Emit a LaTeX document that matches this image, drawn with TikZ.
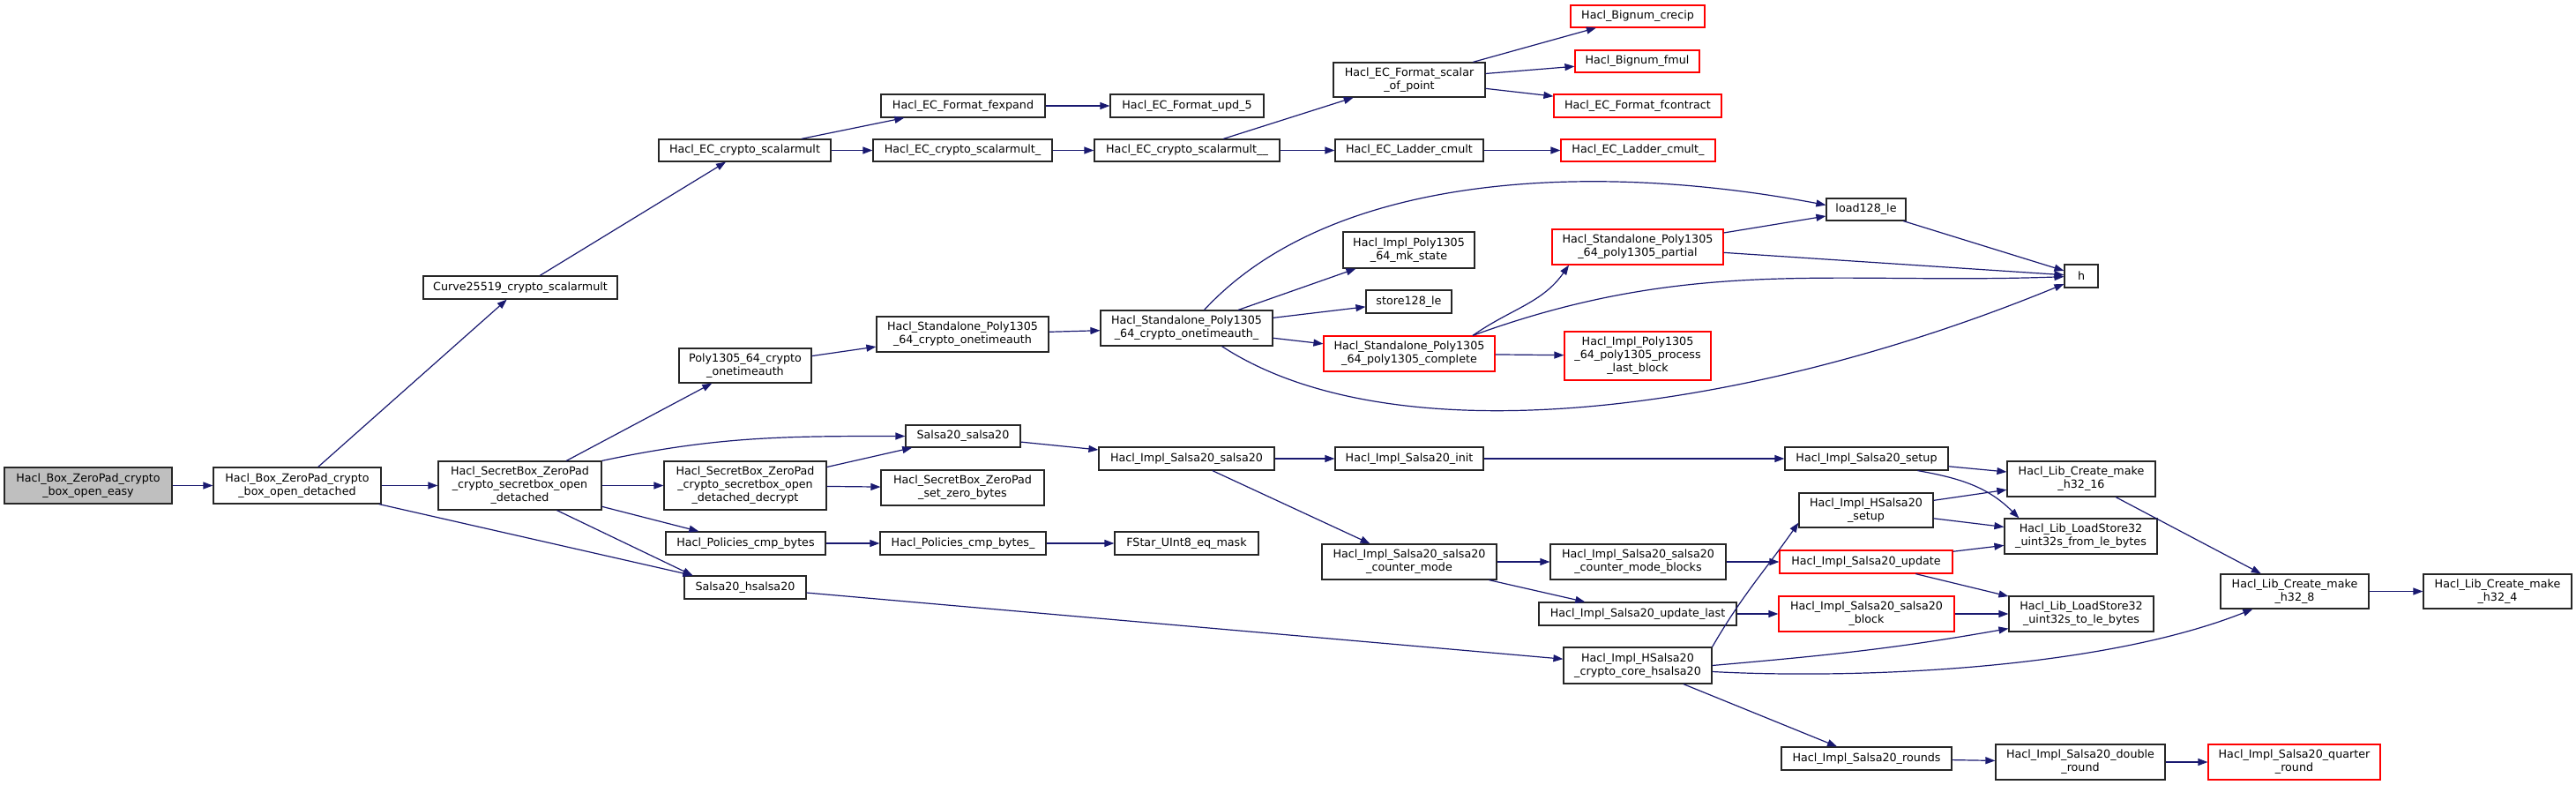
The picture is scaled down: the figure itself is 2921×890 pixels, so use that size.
\documentclass[tikz,border=0pt]{standalone}
\usepackage{fontspec}
\setmainfont{DejaVu Sans}
\usetikzlibrary{arrows.meta}
\definecolor{callblue}{RGB}{25,25,112}
\definecolor{rootgrey}{RGB}{191,191,191}

\begin{document}
\begin{tikzpicture}[x=1pt,y=1pt,
  fn/.style={draw=black!85, fill=white, line width=1.2pt, inner sep=0pt, align=center,
    font=\fontsize{12.7}{15}\selectfont},
  fnred/.style={fn, draw=red},
  call/.style={draw=callblue, line width=1.2pt, -{Triangle[length=11pt,width=8pt]}}]
\useasboundingbox (0,0) rectangle (2921,-890);

\node[fn, fill=rootgrey, minimum width=190, minimum height=41] (easy) at (100,-550.5) {Hacl\_Box\_ZeroPad\_crypto\\\_box\_open\_easy};
\node[fn, minimum width=190, minimum height=41] (detached) at (337,-550.5) {Hacl\_Box\_ZeroPad\_crypto\\\_box\_open\_detached};
\node[fn, minimum width=220, minimum height=26] (curve) at (590,-326) {Curve25519\_crypto\_scalarmult};
\node[fn, minimum width=195, minimum height=25] (ecsm) at (844.5,-170.5) {Hacl\_EC\_crypto\_scalarmult};
\node[fn, minimum width=186, minimum height=26] (fexpand) at (1092,-120) {Hacl\_EC\_Format\_fexpand};
\node[fn, minimum width=174, minimum height=26] (upd5) at (1346,-120) {Hacl\_EC\_Format\_upd\_5};
\node[fn, minimum width=203, minimum height=25] (ecsmA) at (1091.5,-170.5) {Hacl\_EC\_crypto\_scalarmult\_};
\node[fn, minimum width=210, minimum height=25] (ecsmB) at (1346,-170.5) {Hacl\_EC\_crypto\_scalarmult\_\_};
\node[fn, minimum width=172, minimum height=39] (sop) at (1598,-90.5) {Hacl\_EC\_Format\_scalar\\\_of\_point};
\node[fnred, minimum width=152, minimum height=25] (crecip) at (1857,-18.5) {Hacl\_Bignum\_crecip};
\node[fnred, minimum width=141, minimum height=25] (fmul) at (1856.5,-69.5) {Hacl\_Bignum\_fmul};
\node[fnred, minimum width=190, minimum height=26] (fcontract) at (1857,-120) {Hacl\_EC\_Format\_fcontract};
\node[fn, minimum width=168, minimum height=25] (ladder) at (1598,-170.5) {Hacl\_EC\_Ladder\_cmult};
\node[fnred, minimum width=175, minimum height=25] (ladderA) at (1857.5,-170.5) {Hacl\_EC\_Ladder\_cmult\_};
\node[fn, minimum width=90, minimum height=25] (loadle) at (2116,-237.5) {load128\_le};
\node[fn, minimum width=38, minimum height=26] (h) at (2360,-313) {h};
\node[fn, minimum width=149, minimum height=41] (mkstate) at (1597.5,-283.5) {Hacl\_Impl\_Poly1305\\\_64\_mk\_state};
\node[fn, minimum width=97, minimum height=26] (storele) at (1597.5,-342) {store128\_le};
\node[fnred, minimum width=194, minimum height=40] (partial) at (1857,-280) {Hacl\_Standalone\_Poly1305\\\_64\_poly1305\_partial};
\node[fnred, minimum width=194, minimum height=40] (complete) at (1598,-401) {Hacl\_Standalone\_Poly1305\\\_64\_poly1305\_complete};
\node[fnred, minimum width=166, minimum height=55] (lastblock) at (1857,-403.5) {Hacl\_Impl\_Poly1305\\\_64\_poly1305\_process\\\_last\_block};
\node[fn, minimum width=150, minimum height=39] (ota) at (845,-414.5) {Poly1305\_64\_crypto\\\_onetimeauth};
\node[fn, minimum width=195, minimum height=40] (sota) at (1091.5,-379) {Hacl\_Standalone\_Poly1305\\\_64\_crypto\_onetimeauth};
\node[fn, minimum width=195, minimum height=40] (sotaA) at (1345.5,-372) {Hacl\_Standalone\_Poly1305\\\_64\_crypto\_onetimeauth\_};
\node[fn, minimum width=185, minimum height=55] (secretbox) at (589.5,-550.5) {Hacl\_SecretBox\_ZeroPad\\\_crypto\_secretbox\_open\\\_detached};
\node[fn, minimum width=130, minimum height=25] (salsa) at (1092,-494.5) {Salsa20\_salsa20};
\node[fn, minimum width=199, minimum height=26] (implsalsa) at (1345.5,-520) {Hacl\_Impl\_Salsa20\_salsa20};
\node[fn, minimum width=184, minimum height=55] (decrypt) at (845,-550.5) {Hacl\_SecretBox\_ZeroPad\\\_crypto\_secretbox\_open\\\_detached\_decrypt};
\node[fn, minimum width=185, minimum height=40] (zerobytes) at (1091.5,-553) {Hacl\_SecretBox\_ZeroPad\\\_set\_zero\_bytes};
\node[fn, minimum width=181, minimum height=26] (cmp) at (845.5,-616) {Hacl\_Policies\_cmp\_bytes};
\node[fn, minimum width=188, minimum height=26] (cmpA) at (1092,-616) {Hacl\_Policies\_cmp\_bytes\_};
\node[fn, minimum width=163, minimum height=26] (eqmask) at (1345.5,-616) {FStar\_UInt8\_eq\_mask};
\node[fn, minimum width=138, minimum height=26] (hsalsa) at (845,-666) {Salsa20\_hsalsa20};
\node[fn, minimum width=168, minimum height=26] (init) at (1598,-520) {Hacl\_Impl\_Salsa20\_init};
\node[fn, minimum width=185, minimum height=26] (setup) at (2116.5,-520) {Hacl\_Impl\_Salsa20\_setup};
\node[fn, minimum width=168, minimum height=40] (mkA) at (2360,-543) {Hacl\_Lib\_Create\_make\\\_h32\_16};
\node[fn, minimum width=152, minimum height=39] (hsetup) at (2116,-578.5) {Hacl\_Impl\_HSalsa20\\\_setup};
\node[fn, minimum width=173, minimum height=40] (fromle) at (2359.5,-608) {Hacl\_Lib\_LoadStore32\\\_uint32s\_from\_le\_bytes};
\node[fnred, minimum width=196, minimum height=26] (update) at (2116,-637) {Hacl\_Impl\_Salsa20\_update};
\node[fn, minimum width=198, minimum height=40] (ctr) at (1598,-637) {Hacl\_Impl\_Salsa20\_salsa20\\\_counter\_mode};
\node[fn, minimum width=199, minimum height=40] (ctrblocks) at (1857.5,-637) {Hacl\_Impl\_Salsa20\_salsa20\\\_counter\_mode\_blocks};
\node[fn, minimum width=224, minimum height=26] (updlast) at (1857,-696) {Hacl\_Impl\_Salsa20\_update\_last};
\node[fn, minimum width=168, minimum height=41] (core) at (1857,-754.5) {Hacl\_Impl\_HSalsa20\\\_crypto\_core\_hsalsa20};
\node[fnred, minimum width=199, minimum height=40] (block) at (2116.5,-696) {Hacl\_Impl\_Salsa20\_salsa20\\\_block};
\node[fn, minimum width=164, minimum height=40] (tole) at (2360,-696) {Hacl\_Lib\_LoadStore32\\\_uint32s\_to\_le\_bytes};
\node[fn, minimum width=168, minimum height=39] (mkB) at (2602,-670.5) {Hacl\_Lib\_Create\_make\\\_h32\_8};
\node[fn, minimum width=168, minimum height=39] (mkC) at (2832,-670.5) {Hacl\_Lib\_Create\_make\\\_h32\_4};
\node[fn, minimum width=193, minimum height=26] (rounds) at (2116.5,-860) {Hacl\_Impl\_Salsa20\_rounds};
\node[fn, minimum width=192, minimum height=40] (dround) at (2359,-864) {Hacl\_Impl\_Salsa20\_double\\\_round};
\node[fnred, minimum width=195, minimum height=40] (qround) at (2601.5,-864) {Hacl\_Impl\_Salsa20\_quarter\\\_round};

\draw[call] (easy) -- (detached);
\draw[call] (detached) -- (curve);
\draw[call] (detached) -- (secretbox);
\draw[call] (detached) -- ([xshift=10]hsalsa.north west);
\draw[call] (curve) -- (ecsm);
\draw[call] (ecsm) -- (fexpand);
\draw[call] (ecsm) -- (ecsmA);
\draw[call] (fexpand) -- (upd5);
\draw[call] (ecsmA) -- (ecsmB);
\draw[call] (ecsmB) -- (sop);
\draw[call] (ecsmB) -- (ladder);
\draw[call] (sop) -- (crecip);
\draw[call] (sop) -- (fmul);
\draw[call] (sop) -- (fcontract);
\draw[call] (ladder) -- (ladderA);
\draw[call] (secretbox) -- (ota);
\draw[call] (secretbox.north east) to[out=12,in=180] (salsa);
\draw[call] (secretbox) -- (decrypt);
\draw[call] (secretbox) -- (cmp);
\draw[call] ([xshift=42]secretbox.south) -- ([xshift=10]hsalsa.north west);
\draw[call] (ota) -- (sota);
\draw[call] (sota) -- (sotaA);
\draw[call] ([xshift=20]sotaA.north) .. controls (1515,-190) and (1821,-185) .. ([yshift=5]loadle.west);
\draw[call] (sotaA) -- (mkstate);
\draw[call] (sotaA) -- (storele);
\draw[call] (sotaA) -- (complete);
\draw[call] ([xshift=40]sotaA.south) .. controls (1580,-520) and (1980,-470) .. ([yshift=-9]h.west);
\draw[call] (partial) -- (loadle);
\draw[call] (partial) -- (h);
\draw[call] (loadle) -- (h);
\draw[call] ([xshift=72]complete.north) to[out=35,in=235] ([xshift=-78]partial.south);
\draw[call] ([xshift=72]complete.north) to[out=20,in=182] (h);
\draw[call] (complete) -- (lastblock);
\draw[call] (decrypt) -- (salsa);
\draw[call] (decrypt) -- (zerobytes);
\draw[call] (salsa) -- (implsalsa);
\draw[call] (implsalsa) -- (init);
\draw[call] (implsalsa) -- (ctr);
\draw[call] (init) -- (setup);
\draw[call] (setup) -- (mkA);
\draw[call] ([xshift=58]setup.south) to[out=-10,in=135] ([xshift=17]fromle.north west);
\draw[call] (hsetup) -- (mkA);
\draw[call] (hsetup) -- (fromle);
\draw[call] (cmp) -- (cmpA);
\draw[call] (cmpA) -- (eqmask);
\draw[call] (hsalsa) -- (core);
\draw[call] (ctr) -- (ctrblocks);
\draw[call] (ctr) -- (updlast);
\draw[call] (ctrblocks) -- (update);
\draw[call] (updlast) -- (block);
\draw[call] (update) -- (fromle);
\draw[call] (update) -- (tole);
\draw[call] (block) -- (tole);
\draw[call] (core.north east) to[out=60,in=235] ([yshift=6]hsetup.south west);
\draw[call] (core.east) to[out=5,in=190] ([yshift=4]tole.south west);
\draw[call] ([yshift=-7]core.east) .. controls (2100,-770) and (2380,-760) .. ([xshift=37]mkB.south west);
\draw[call] (core) -- (rounds);
\draw[call] (mkA) -- (mkB);
\draw[call] (mkB) -- (mkC);
\draw[call] (rounds) -- (dround);
\draw[call] (dround) -- (qround);
\end{tikzpicture}
\end{document}
